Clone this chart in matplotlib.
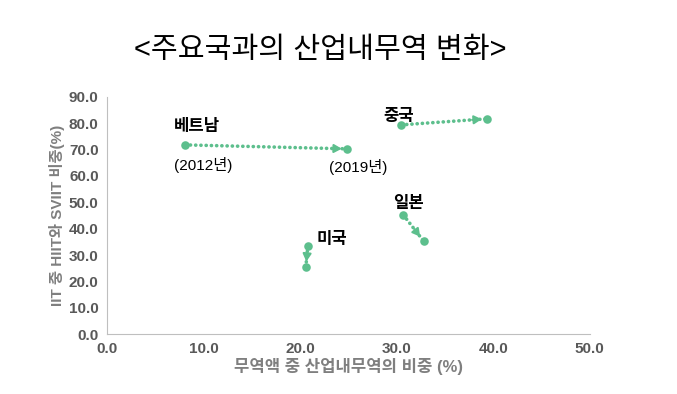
import numpy as np
import matplotlib.pyplot as plt

plt.rcParams['font.family'] = ['Liberation Sans', 'Noto Sans CJK KR', 'DejaVu Sans']

# 국가별 2012 -> 2019
countries = ['베트남', '중국', '일본', '미국']
x2012 = [8.1, 30.5, 30.7, 20.8]
y2012 = [71.8, 79.4, 45.2, 33.4]
x2019 = [24.9, 39.4, 32.8, 20.6]
y2019 = [70.3, 81.7, 35.3, 25.4]

xticks = np.arange(0, 51, 10)
yticks = np.arange(0, 91, 10)

green = '#5dbf8d'
gray = '#7f7f7f'

fig = plt.figure(figsize=(6.77, 3.94), dpi=100)
ax = fig.add_axes([0.158, 0.152, 0.713, 0.602])
ax.set_xlim(0, 50)
ax.set_ylim(0, 90)

ax.scatter(x2012 + x2019, y2012 + y2019, s=38, color=green, zorder=3, linewidths=0)
for i in range(len(countries)):
    # 점선
    ax.plot([x2012[i], x2019[i]], [y2012[i], y2019[i]], color=green, lw=2.6,
            linestyle=(0, (0.05, 1.4)), dash_capstyle='round', zorder=2)
    # 화살촉
    p0 = ax.transData.transform((x2012[i], y2012[i]))
    p1 = ax.transData.transform((x2019[i], y2019[i]))
    d = (p1 - p0) / np.hypot(*(p1 - p0))
    ax.annotate('', xy=(x2019[i], y2019[i]), xytext=(-d[0] * 11, -d[1] * 11),
                textcoords='offset points',
                arrowprops=dict(arrowstyle='-|>,head_length=0.45,head_width=0.25',
                                color=green, lw=1.5, shrinkA=0, shrinkB=4))

# 라벨
ax.text(9.3, 76.0, '베트남', fontsize=12, fontweight='bold', ha='center', va='bottom')
ax.text(10.0, 64.3, '(2012년)', fontsize=11, ha='center', va='center')
ax.text(26.0, 63.5, '(2019년)', fontsize=11, ha='center', va='center')
ax.text(30.2, 79.7, '중국', fontsize=12, fontweight='bold', ha='center', va='bottom')
ax.text(31.2, 46.7, '일본', fontsize=12, fontweight='bold', ha='center', va='bottom')
ax.text(23.3, 33.2, '미국', fontsize=12, fontweight='bold', ha='center', va='bottom')

ax.set_xticks(xticks)
ax.set_yticks(yticks)
ax.set_xticklabels(['%.1f' % v for v in xticks])
ax.set_yticklabels(['%.1f' % v for v in yticks])
for lab in ax.get_xticklabels() + ax.get_yticklabels():
    lab.set_fontweight('bold')
    lab.set_fontsize(11)
    lab.set_color('#595959')
ax.tick_params(length=0, pad=6)

for s in ['top', 'right']:
    ax.spines[s].set_visible(False)
for s in ['left', 'bottom']:
    ax.spines[s].set_color('#bfbfbf')

ax.set_xlabel('무역액 중 산업내무역의 비중 (%)', fontsize=12, fontweight='bold', color=gray, labelpad=1)
ax.set_ylabel('IIT 중 HIIT와 SVIIT 비중(%)', fontsize=11, fontweight='bold', color=gray, labelpad=3)

fig.text(0.473, 0.872, '<주요국과의 산업내무역 변화>', fontsize=21, ha='center', va='center')

fig.savefig('out.png', dpi=100)
